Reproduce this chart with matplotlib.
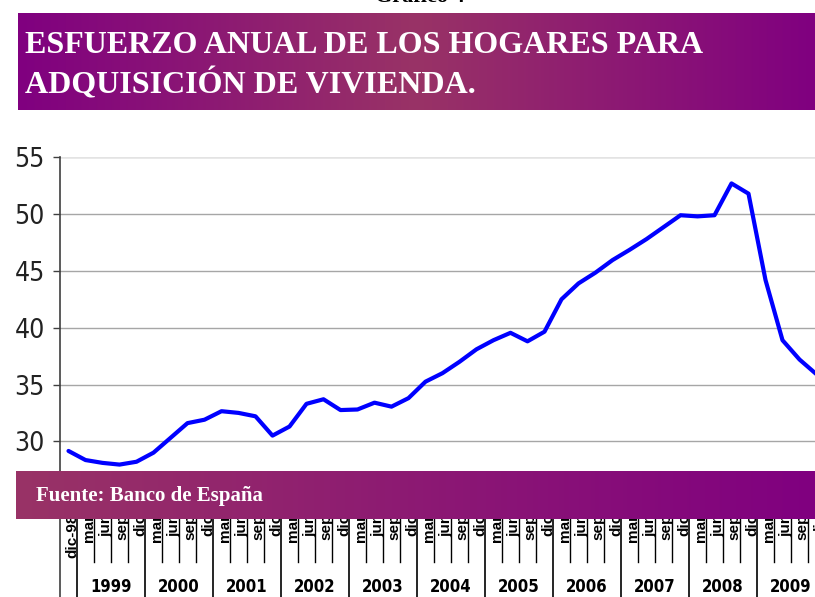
import numpy as np
import matplotlib
matplotlib.use("Agg")
import matplotlib.pyplot as plt
from matplotlib import transforms
from matplotlib.colors import to_rgb

# colours
PURPLE = "#800080"
ROSE = "#993366"
BLUE = "#0000FF"
GRID = "#A6A6A6"
NARROW = ["Noto Sans Condensed", "DejaVu Sans Condensed", "DejaVu Sans"]
SANS = ["Liberation Sans", "DejaVu Sans"]
SERIF = ["Liberation Serif", "DejaVu Serif"]

# data: quarterly, dic-98 .. dic-09
years = [1999, 2000, 2001, 2002, 2003, 2004, 2005, 2006, 2007, 2008, 2009]
months = ["mar", "jun", "sep", "dic"]
first_label = "dic-98"
esfuerzo = [29.15,
            28.35, 28.1, 27.95, 28.2,
            29.0, 30.3, 31.6, 31.9,
            32.65, 32.5, 32.2, 30.5,
            31.3, 33.3, 33.7, 32.75,
            32.8, 33.4, 33.05, 33.8,
            35.25, 36.0, 37.0, 38.1,
            38.9, 39.55, 38.8, 39.65,
            42.5, 43.9, 44.85, 45.95,
            46.85, 47.8, 48.85, 49.9,
            49.8, 49.9, 52.7, 51.8,
            44.2, 38.9, 37.2, 35.9]
yticks = [30, 35, 40, 45, 50, 55]

W, H = 815, 597
fig = plt.figure(figsize=(W / 100, H / 100), dpi=100, facecolor="white")


def fy(py):
    return 1 - py / H


def gradient_band(x0, y0, x1, y1, stops):
    bax = fig.add_axes([x0 / W, fy(y1), (x1 - x0) / W, (y1 - y0) / H], zorder=5)
    pos = np.linspace(0, 1, 400)
    sx = [s[0] for s in stops]
    cols = np.array([to_rgb(s[1]) for s in stops])
    rgb = np.stack([np.interp(pos, sx, cols[:, k]) for k in range(3)], axis=-1)
    bax.imshow(rgb[np.newaxis, :, :], aspect="auto", extent=[0, 1, 0, 1])
    bax.axis("off")
    return bax


# main plot area: y 25..55 -> pixels 498..157, category width 17 px
x = np.arange(len(esfuerzo))
ax = fig.add_axes([60 / W, fy(498.1), 765 / W, (498.1 - 157.3) / H])
ax.set_xlim(-0.5, 44.5)
ax.set_ylim(25, 55)
for v in yticks:
    ax.axhline(v, color=GRID if v < 55 else "#E3E3E3", lw=1.0 if v < 55 else 1.8, zorder=1)
ax.plot(x, esfuerzo, color=BLUE, lw=3.0, solid_joinstyle="round", solid_capstyle="round", zorder=3)
for s in ["top", "right", "bottom", "left"]:
    ax.spines[s].set_visible(False)
ax.set_xticks([])
ax.set_yticks(yticks)
ax.tick_params(axis="y", length=5, width=1, color="#404040", pad=6, labelsize=19)
for t in ax.get_yticklabels():
    t.set_family(NARROW)
    t.set_stretch("condensed")
    t.set_color("#222222")

# left axis line, running down through the category table
fig.add_artist(plt.Line2D([60 / W, 60 / W], [fy(157.3), 0], color="#404040", lw=1.2))

# category table below the plot
tr = transforms.blended_transform_factory(ax.transData, fig.transFigure)
cat_labels = [first_label] + [m for _ in years for m in months]
for i, lab in enumerate(cat_labels):
    ax.text(i + 0.2, fy(514), lab, transform=tr, rotation=90, ha="center", va="top",
            fontsize=11, fontweight="bold", family=SANS, color="black", clip_on=False)
for i in range(1, len(cat_labels)):
    year_edge = (i - 1) % 4 == 0
    bottom = 0 if year_edge else fy(562)
    ax.plot([i - 0.5, i - 0.5], [fy(505), bottom], transform=tr, color="black",
            lw=1.2 if year_edge else 1.0, clip_on=False)
for k, yr in enumerate(years):
    ax.text(2.5 + 4 * k, fy(587), str(yr), transform=tr, ha="center", va="center",
            fontsize=12, fontweight="bold", family=NARROW, fontstretch="condensed",
            color="black", clip_on=False)

# title banner
gradient_band(18, 13, 815, 110, [(0, PURPLE), (0.5, ROSE), (1, PURPLE)])
fig.text(25 / W, fy(53), "ESFUERZO ANUAL DE LOS HOGARES PARA", ha="left", va="baseline",
         fontsize=23, fontweight="bold", family=SERIF, color="white", zorder=10)
fig.text(25 / W, fy(93.5), "ADQUISICIÓN DE VIVIENDA.", ha="left", va="baseline",
         fontsize=23, fontweight="bold", family=SERIF, color="white", zorder=10)
fig.text(420 / W, fy(1.5), "Gráfico 4", ha="center", va="baseline",
         fontsize=16, fontweight="bold", family=SERIF, color="black")

# source banner
gradient_band(16, 471, 815, 519.5, [(0, ROSE), (1, PURPLE)])
fig.text(36 / W, fy(501), "Fuente: Banco de España", ha="left", va="baseline",
         fontsize=15, fontweight="bold", family=SERIF, color="white", zorder=10)

fig.savefig("out.png", dpi=100, facecolor="white")
